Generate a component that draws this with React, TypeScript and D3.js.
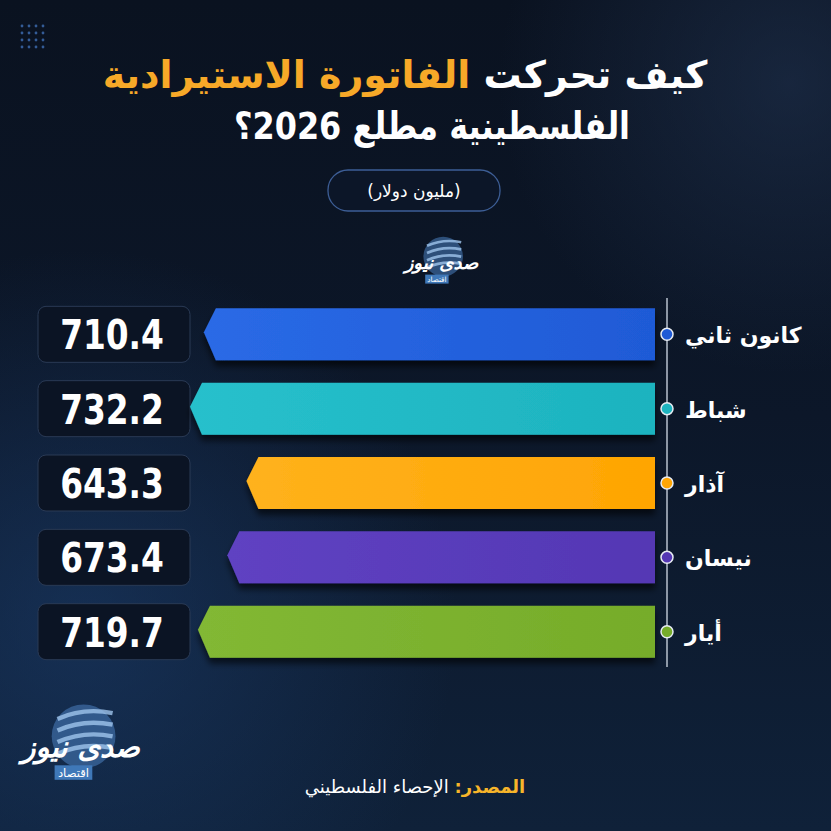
import { scaleBand, scaleLinear } from "d3";

const months = ["كانون ثاني", "شباط", "آذار", "نيسان", "أيار"];
const values = [710.4, 732.2, 643.3, 673.4, 719.7];
const barColors = ["#1f5ad6", "#1db3bf", "#ffa503", "#5437b4", "#76ac2a"];
const barColorsLight = ["#2a6ae6", "#27c0cc", "#ffb21c", "#5f42c2", "#82b834"];

const titleWhite = "كيف تحركت ";
const titleOrange = "الفاتورة الاستيرادية";
const titleLine2 = "الفلسطينية مطلع 2026؟";
const unitLabel = "(مليون دولار)";
const sourceLabel = "المصدر:";
const sourceText = " الإحصاء الفلسطيني";

const W = 831;
const H = 831;
const AXIS_X = 667;
const BAR_RIGHT = 655;
const ARABIC = "'DejaVu Sans', sans-serif";
const NUM = "'DejaVu Sans', sans-serif";

function Logo({ x, y, s }: { x: number; y: number; s: number }) {
  return (
    <g transform={`translate(${x},${y}) scale(${s})`}>
      <circle cx={8} cy={-6} r={22} fill="#4a7fc0" opacity={0.55} />
      {[-18, -10, -2, 6].map((dy, i) => (
        <path
          key={i}
          d={`M-10,${dy} Q8,${dy - 8} 28,${dy - 4}`}
          stroke="#9fc4ec"
          strokeWidth={3}
          fill="none"
          opacity={0.8}
        />
      ))}
      <text
        x={6}
        y={8}
        textAnchor="middle"
        fontFamily={ARABIC}
        fontWeight="bold"
        fontStyle="italic"
        fontSize={20}
        fill="#ffffff"
        direction="rtl"
      >
        صدى نيوز
      </text>
      <rect x={-12} y={14} width={26} height={10} fill="#3f78b8" />
      <text x={1} y={22} textAnchor="middle" fontFamily={ARABIC} fontSize={8} fill="#fff" direction="rtl">
        اقتصاد
      </text>
    </g>
  );
}

export default function App() {
  const y = scaleBand<string>()
    .domain(months)
    .range([286, 680])
    .paddingInner(0.3)
    .paddingOuter(0.3);
  const x = scaleLinear().domain([0, 732.2]).range([BAR_RIGHT, 190]);
  const bh = y.bandwidth();

  return (
    <svg
      width={W}
      height={H}
      viewBox={`0 0 ${W} ${H}`}
      style={{ position: "absolute", left: 0, top: 0, display: "block" }}
    >
      <defs>
        <linearGradient id="bg" x1="0" y1="0" x2="0" y2="1">
          <stop offset="0" stopColor="#0a1220" />
          <stop offset="0.5" stopColor="#0c1729" />
          <stop offset="1" stopColor="#0f2139" />
        </linearGradient>
        <radialGradient id="glowL" cx="0.1" cy="0.75" r="0.45">
          <stop offset="0" stopColor="#1c3f70" stopOpacity={0.55} />
          <stop offset="1" stopColor="#1c3f70" stopOpacity={0} />
        </radialGradient>
        <radialGradient id="glowR" cx="0.95" cy="0.1" r="0.35">
          <stop offset="0" stopColor="#20324f" stopOpacity={0.6} />
          <stop offset="1" stopColor="#20324f" stopOpacity={0} />
        </radialGradient>
        <filter id="shadow" x="-10%" y="-20%" width="120%" height="160%">
          <feDropShadow dx={0} dy={6} stdDeviation={3} floodColor="#000" floodOpacity={0.6} />
        </filter>
        {barColors.map((c, i) => (
          <linearGradient key={i} id={`bar${i}`} x1="0" y1="0" x2="1" y2="0">
            <stop offset="0" stopColor={barColorsLight[i]} />
            <stop offset="1" stopColor={c} />
          </linearGradient>
        ))}
      </defs>

      <rect width={W} height={H} fill="url(#bg)" />
      <rect width={W} height={H} fill="url(#glowL)" />
      <rect width={W} height={H} fill="url(#glowR)" />

      {/* decorative dot grid */}
      {[0, 1, 2, 3].flatMap((r) =>
        [0, 1, 2, 3].map((c) => (
          <circle key={`${r}-${c}`} cx={22 + c * 7} cy={26 + r * 7} r={1.4} fill="#3f6fb5" opacity={0.8} />
        ))
      )}

      {/* title */}
      <text
        x={405}
        y={88}
        textAnchor="middle"
        direction="rtl"
        fontFamily={ARABIC}
        fontWeight="bold"
        fontSize={38}
        fill="#ffffff"
      >
        <tspan>{titleWhite}</tspan>
        <tspan fill="#f7a928">{titleOrange}</tspan>
      </text>
      <g transform="translate(432,139) scale(0.84,1)">
        <text
          x={0}
          y={0}
          textAnchor="middle"
          direction="rtl"
          fontFamily={ARABIC}
          fontWeight="bold"
          fontSize={38}
          fill="#ffffff"
        >
          {titleLine2}
        </text>
      </g>

      {/* unit pill */}
      <rect x={328} y={170} width={172} height={41} rx={20} fill="#0c1628" stroke="#3d5e96" strokeWidth={1.3} />
      <text
        x={414}
        y={197}
        textAnchor="middle"
        direction="rtl"
        fontFamily={ARABIC}
        fontSize={17}
        fill="#ffffff"
      >
        {unitLabel}
      </text>

      <Logo x={436} y={262} s={0.9} />

      {/* axis line */}
      <line x1={AXIS_X} x2={AXIS_X} y1={298} y2={667} stroke="#b9c2cf" strokeWidth={1.5} />

      {months.map((m, i) => {
        const top = y(m)!;
        const mid = top + bh / 2;
        const tip = x(values[i]);
        const pts = [
          [BAR_RIGHT, top],
          [tip + 12, top],
          [tip, mid - 2],
          [tip + 12, top + bh],
          [BAR_RIGHT, top + bh],
        ]
          .map((p) => p.join(","))
          .join(" ");
        return (
          <g key={m}>
            <rect
              x={38}
              y={mid - 28}
              width={152}
              height={56}
              rx={8}
              fill="#0b1424"
              stroke="#2a3a55"
              strokeWidth={1}
            />
            <g transform={`translate(112,${mid + 15}) scale(0.8,1)`}>
              <text
                x={0}
                y={0}
                textAnchor="middle"
                fontFamily={NUM}
                fontWeight="bold"
                fontSize={41}
                fill="#ffffff"
              >
                {values[i].toFixed(1)}
              </text>
            </g>
            <polygon points={pts} fill={`url(#bar${i})`} filter="url(#shadow)" />
            <circle cx={AXIS_X} cy={mid} r={6} fill={barColors[i]} stroke="#e6ebf2" strokeWidth={1.5} />
            <text
              x={685}
              y={mid + 9}
              textAnchor="start"
              fontFamily={ARABIC}
              fontWeight="bold"
              fontSize={22}
              fill="#ffffff"
            >
              {m}
            </text>
          </g>
        );
      })}

      <Logo x={72} y={745} s={1.45} />

      {/* source */}
      <text
        x={415}
        y={793}
        textAnchor="middle"
        direction="rtl"
        fontFamily={ARABIC}
        fontSize={18}
        fill="#ffffff"
      >
        <tspan fill="#f7b52a" fontWeight="bold">{sourceLabel}</tspan>
        <tspan>{sourceText}</tspan>
      </text>
    </svg>
  );
}
